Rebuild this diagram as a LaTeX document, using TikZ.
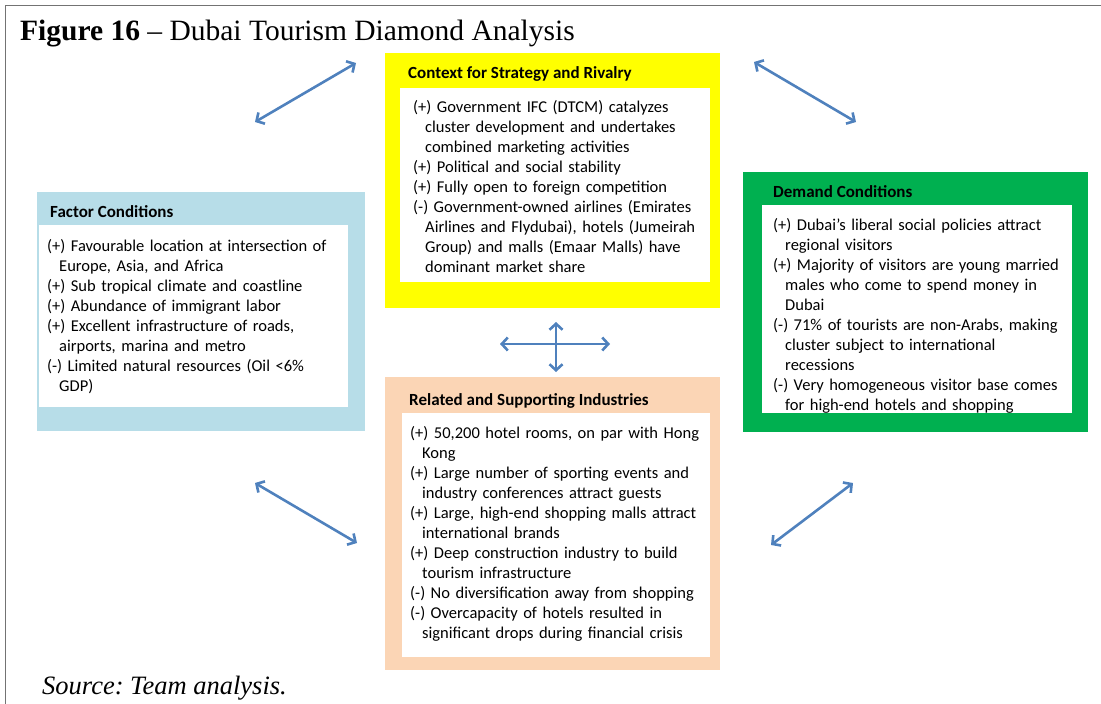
\documentclass[tikz,border=0pt]{standalone}
\usepackage{fontspec}
\setmainfont{Liberation Serif}
\newfontfamily\calib{Carlito}
\usetikzlibrary{arrows.meta}
\definecolor{ylw}{RGB}{255,255,0}
\definecolor{lblue}{RGB}{183,221,232}
\definecolor{grn}{RGB}{0,176,80}
\definecolor{peach}{RGB}{251,213,181}
\definecolor{arrblue}{RGB}{79,129,189}
\newcommand{\hind}{\hspace*{12pt}}
\tikzset{
  outerbox/.style={rectangle, inner sep=0pt, draw=none, anchor=north west},
  innerbox/.style={rectangle, inner sep=0pt, draw=none, fill=white, anchor=north west},
  boxtitle/.style={anchor=north west, inner sep=0pt, font=\calib\bfseries\fontsize{17}{20}\selectfont},
  boxtext/.style={anchor=north west, inner sep=0pt, text width=340pt, align=left, font=\calib\fontsize{16.5}{20}\selectfont},
  dblarrow/.style={draw=arrblue, line width=2.6pt, {Straight Barb[length=6pt,width=13pt]}-{Straight Barb[length=6pt,width=13pt]}},
  frameline/.style={draw=black!55, line width=1pt}
}
\begin{document}
\frenchspacing
\begin{tikzpicture}[x=1pt,y=-1pt]
\useasboundingbox (0,0) rectangle (1101,704);
% frame
\coordinate (fr1) at (5,704);
\coordinate (fr2) at (5,5);
\coordinate (fr3) at (1101,5);
\draw[frameline] (fr1) -- (fr2) -- (fr3);
% title
\node[anchor=base west, inner sep=0pt, font=\fontsize{29.5}{34}\selectfont] (title) at (20,40.5) {\textbf{Figure 16} -- Dubai Tourism Diamond Analysis};
% Context for strategy and rivalry
\node[outerbox, fill=ylw, minimum width=335pt, minimum height=255pt] (strat) at (385,53) {};
\node[innerbox, minimum width=310pt, minimum height=194pt] (stratw) at (400,88) {};
\node[boxtitle] (stratt) at (408,64) {\rule{0pt}{14pt}Context for Strategy and Rivalry};
\node[boxtext] (stratb) at (413,98) {\rule{0pt}{14pt}(+) Government IFC (DTCM) catalyzes\\
\hind cluster development and undertakes\\
\hind combined marketing activities\\
(+) Political and social stability\\
(+) Fully open to foreign competition\\
(-) Government-owned airlines (Emirates\\
\hind Airlines and Flydubai), hotels (Jumeirah\\
\hind Group) and malls (Emaar Malls) have\\
\hind dominant market share};
% Factor conditions
\node[outerbox, fill=lblue, minimum width=328pt, minimum height=239pt] (fact) at (37,192) {};
\node[innerbox, minimum width=309pt, minimum height=182pt] (factw) at (39,225) {};
\node[boxtitle] (factt) at (50,203) {\rule{0pt}{14pt}Factor Conditions};
\node[boxtext] (factb) at (47,237) {\rule{0pt}{14pt}(+) Favourable location at intersection of\\
\hind Europe, Asia, and Africa\\
(+) Sub tropical climate and coastline\\
(+) Abundance of immigrant labor\\
(+) Excellent infrastructure of roads,\\
\hind airports, marina and metro\\
(-) Limited natural resources (Oil <6\%\\
\hind GDP)};
% Demand conditions
\node[outerbox, fill=grn, minimum width=345pt, minimum height=260pt] (dem) at (743,172) {};
\node[innerbox, minimum width=310pt, minimum height=208pt] (demw) at (762,205) {};
\node[boxtitle] (demt) at (773,183) {\rule{0pt}{14pt}Demand Conditions};
\node[boxtext] (demb) at (773,216) {\rule{0pt}{14pt}(+) Dubai’s liberal social policies attract\\
\hind regional visitors\\
(+) Majority of visitors are young married\\
\hind males who come to spend money in\\
\hind Dubai\\
(-) 71\% of tourists are non-Arabs, making\\
\hind cluster subject to international\\
\hind recessions\\
(-) Very homogeneous visitor base comes\\
\hind for high-end hotels and shopping};
% Related and supporting industries
\node[outerbox, fill=peach, minimum width=335pt, minimum height=293pt] (rel) at (385,377) {};
\node[innerbox, minimum width=308pt, minimum height=244pt] (relw) at (402,413) {};
\node[boxtitle] (relt) at (409,391) {\rule{0pt}{14pt}Related and Supporting Industries};
\node[boxtext] (relb) at (410,424) {\rule{0pt}{14pt}(+) 50,200 hotel rooms, on par with Hong\\
\hind Kong\\
(+) Large number of sporting events and\\
\hind industry conferences attract guests\\
(+) Large, high-end shopping malls attract\\
\hind international brands\\
(+) Deep construction industry to build\\
\hind tourism infrastructure\\
(-) No diversification away from shopping\\
(-) Overcapacity of hotels resulted in\\
\hind significant drops during financial crisis};
% source
\node[anchor=base west, inner sep=0pt, font=\itshape\fontsize{26.5}{30}\selectfont] (src) at (42,694) {Source: Team analysis.};
% arrows
\coordinate (tl1) at (255,122); \coordinate (tl2) at (356,63);
\coordinate (tr1) at (754,62);  \coordinate (tr2) at (856,122);
\coordinate (bl1) at (255,483); \coordinate (bl2) at (357,543);
\coordinate (br1) at (853,483); \coordinate (br2) at (771,545);
\coordinate (ch1) at (500,344); \coordinate (ch2) at (610,344);
\coordinate (cv1) at (556,322); \coordinate (cv2) at (556,372);
\draw[dblarrow] (tl1) -- (tl2);
\draw[dblarrow] (tr1) -- (tr2);
\draw[dblarrow] (bl1) -- (bl2);
\draw[dblarrow] (br1) -- (br2);
\draw[dblarrow] (ch1) -- (ch2);
\draw[dblarrow] (cv1) -- (cv2);
\end{tikzpicture}
\end{document}
